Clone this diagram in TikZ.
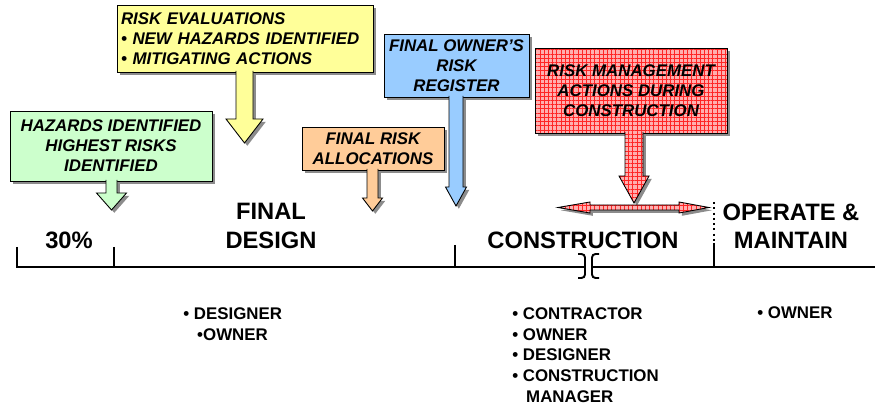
\documentclass[tikz,border=0pt]{standalone}
\usepackage{fontspec}
\setmainfont{Liberation Sans}
\usetikzlibrary{shadows, patterns.meta}

% arrow hanging under a callout box: style, centre x, top y, stem half, head half, head y, tip y
\newcommand{\callarrow}[7]{%
  \path[#1] ({#2-#4},#3) -- ({#2-#4},#6) -- ({#2-#5},#6) -- (#2,#7)
    -- ({#2+#5},#6) -- ({#2+#4},#6) -- ({#2+#4},#3);
}

\begin{document}
\begin{tikzpicture}[x=0.02cm, y=-0.02cm,
    outline/.style={draw, line width=0.5pt,
      drop shadow={shadow xshift=1.6pt, shadow yshift=-1.6pt, fill=black!45, opacity=1}},
    callout/.style={outline, inner sep=0pt, align=center,
      font=\fontsize{9.6}{11.4}\selectfont\bfseries\itshape},
    gridred/.style={preaction={fill=riskred},
      pattern={Hatch[distance=2.4pt, angle=0, line width=0.2pt]}, pattern color=red!85},
    timeline/.style={line width=1.1pt},
    stage/.style={font=\fontsize{13.5}{16}\selectfont\bfseries, align=center},
    party/.style={font=\fontsize{9.6}{11.9}\selectfont\bfseries, align=left,
      anchor=north west, inner sep=0pt}]

    % Define colors
    \definecolor{hazgreen}{RGB}{204, 255, 204}
    \definecolor{evalyellow}{RGB}{255, 255, 153}
    \definecolor{allocorange}{RGB}{255, 204, 153}
    \definecolor{registerblue}{RGB}{153, 204, 255}
    \definecolor{riskred}{RGB}{255, 175, 175}

    \useasboundingbox (0,0) rectangle (875,408);

    % Timeline
    \draw[timeline] (17,247) -- (17,267) -- (585,267);
    \draw[timeline] (592,267) -- (875,267);
    \draw[timeline] (114,247) -- (114,267);
    \draw[timeline] (455,245) -- (455,267);
    \draw[timeline] (714,243) -- (714,267);
    \draw[line width=1.1pt, dash pattern=on 1.2pt off 1.8pt] (714,202) -- (714,243);

    % Break in the timeline
    \draw[line width=1.1pt, rounded corners=2] (578,254) -- (585,254) -- (585,278) -- (578,278);
    \draw[line width=1.1pt, rounded corners=2] (599,254) -- (592,254) -- (592,278) -- (599,278);

    % Stages
    \node[stage] (pct) at (69,240) {30\%};
    \node[stage] (design) at (271,226) {FINAL\\DESIGN};
    \node[stage] (construct) at (583,240) {CONSTRUCTION};
    \node[stage] (operate) at (791,226) {OPERATE \&\\MAINTAIN};

    % Callouts
    \node[callout, fill=hazgreen, minimum width=4.04cm, minimum height=1.4cm] (hazards)
        at (111,146) {HAZARDS IDENTIFIED\\HIGHEST RISKS\\IDENTIFIED};
    \callarrow{outline, fill=hazgreen}{111.5}{180}{5.5}{15}{193}{210}

    \node[callout, fill=evalyellow, minimum width=5.12cm, minimum height=1.34cm,
        text width=4.96cm, align=left] (evaluations)
        at (245,38.5) {RISK EVALUATIONS\\• NEW HAZARDS IDENTIFIED\\• MITIGATING ACTIONS};
    \callarrow{outline, fill=evalyellow}{244.5}{71}{8.5}{18.5}{119}{143}

    \node[callout, fill=allocorange, minimum width=2.84cm, minimum height=0.86cm] (allocations)
        at (373,148.5) {FINAL RISK\\ALLOCATIONS};
    \callarrow{outline, fill=allocorange}{372.5}{169}{5.5}{10}{198}{211}

    \node[callout, fill=registerblue, minimum width=2.9cm, minimum height=1.26cm] (register)
        at (456.5,65.5) {FINAL OWNER’S\\RISK\\REGISTER};
    \callarrow{outline, fill=registerblue}{456}{96}{7}{10.5}{187}{206}

    \node[callout, gridred, minimum width=3.84cm, minimum height=1.7cm] (actions)
        at (631,90.5) {RISK MANAGEMENT\\ACTIONS DURING\\CONSTRUCTION};
    \callarrow{outline, gridred}{634}{132}{9}{15}{176}{203}

    % Span of the construction actions
    \path[outline, gridred] (558,207.5) -- (590,202) -- (590,205) -- (679,205) -- (679,202)
        -- (709,207.5) -- (679,213) -- (679,210) -- (590,210) -- (590,213) -- cycle;

    % Parties
    \node[party] (designlist) at (183,307) {• DESIGNER\\\hspace*{7.9pt}•OWNER};
    \node[party] (buildlist) at (512,307)
        {• CONTRACTOR\\• OWNER\\• DESIGNER\\• CONSTRUCTION\\\hspace*{7.9pt}MANAGER};
    \node[party] (ownerlist) at (757,306) {• OWNER};

\end{tikzpicture}
\end{document}
